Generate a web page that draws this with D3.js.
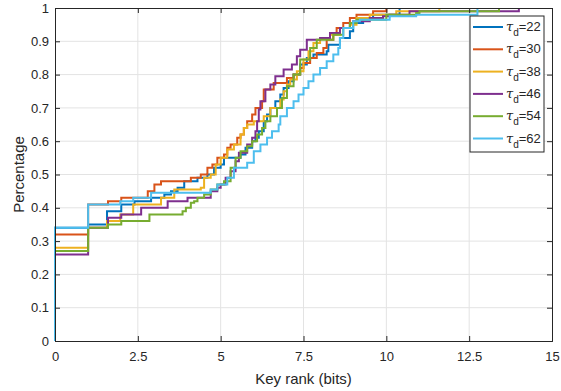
<!DOCTYPE html>
<html>
<head>
<meta charset="utf-8">
<script src="https://cdn.jsdelivr.net/npm/d3@7"></script>
<style>
  body { margin: 0; background: #fff; }
  svg text { font-family: "Liberation Sans", Arial, sans-serif; fill: #262626; }
</style>
</head>
<body>
<div id="chart"></div>
<script>
// tau_d values (legend)
const taus = [22, 30, 38, 46, 54, 62];
const colors = ["#0072BD", "#D95319", "#EDB120", "#7E2F8E", "#77AC30", "#4DBEEE"];

// step CDF breakpoints [key rank, percentage]
const s22 = [[0,0],[0,0.34],[1,0.35],[1.57,0.39],[2.0,0.41],[2.4,0.42],[2.9,0.43],[3.3,0.44],[3.5,0.45],[3.7,0.46],[3.9,0.48],[4.3,0.49],[4.6,0.50],[4.8,0.52],[5.0,0.53],[5.1,0.55],[5.6,0.56],[5.75,0.58],[5.95,0.60],[6.05,0.61],[6.15,0.63],[6.3,0.66],[6.4,0.68],[6.5,0.70],[6.65,0.72],[6.8,0.74],[6.9,0.76],[7.05,0.78],[7.2,0.80],[7.4,0.83],[7.6,0.85],[7.8,0.86],[8.2,0.87],[8.25,0.89],[8.6,0.91],[8.9,0.93],[9.0,0.955],[9.3,0.97],[9.6,0.98],[10.4,1.0]];
const s30 = [[0,0],[0,0.32],[1,0.41],[1.6,0.42],[2.0,0.43],[2.8,0.45],[3.0,0.47],[3.2,0.48],[4.1,0.49],[4.4,0.50],[4.6,0.52],[4.75,0.53],[4.9,0.55],[5.1,0.56],[5.2,0.58],[5.3,0.59],[5.5,0.61],[5.6,0.62],[5.7,0.64],[5.8,0.66],[5.95,0.68],[6.05,0.70],[6.25,0.72],[6.3,0.755],[6.6,0.775],[7.0,0.79],[7.2,0.80],[7.4,0.82],[7.5,0.835],[7.7,0.85],[7.9,0.865],[8.1,0.88],[8.2,0.905],[8.4,0.92],[8.5,0.94],[8.7,0.955],[8.9,0.97],[9.1,0.98],[9.6,0.99],[10.0,1.0]];
const s38 = [[0,0],[0,0.28],[1,0.34],[1.57,0.36],[1.97,0.38],[2.36,0.41],[3.2,0.43],[3.6,0.455],[4.4,0.46],[4.5,0.49],[4.7,0.50],[4.85,0.53],[5.0,0.55],[5.2,0.575],[5.4,0.59],[5.6,0.62],[5.7,0.64],[5.8,0.65],[6.0,0.66],[6.3,0.675],[6.5,0.70],[6.8,0.725],[6.9,0.75],[7.0,0.77],[7.1,0.785],[7.3,0.81],[7.5,0.845],[7.65,0.87],[7.8,0.895],[8.0,0.91],[8.3,0.92],[8.6,0.94],[8.9,0.95],[9.1,0.97],[9.5,0.98],[10.3,0.99],[11.6,1.0]];
const s46 = [[0,0],[0,0.26],[1,0.34],[1.6,0.37],[2.0,0.38],[2.6,0.40],[3.4,0.42],[4.0,0.43],[4.7,0.45],[4.9,0.46],[5.0,0.47],[5.15,0.49],[5.3,0.51],[5.45,0.54],[5.55,0.565],[5.8,0.59],[5.95,0.61],[6.05,0.63],[6.1,0.66],[6.15,0.695],[6.2,0.72],[6.35,0.755],[6.5,0.77],[6.65,0.795],[6.9,0.815],[7.15,0.83],[7.3,0.855],[7.4,0.875],[7.6,0.905],[8.0,0.91],[8.3,0.925],[8.6,0.94],[8.9,0.955],[9.0,0.96],[9.5,0.97],[9.9,0.975],[10.1,0.98],[10.7,0.99],[14.0,1.0]];
const s54 = [[0,0],[0,0.27],[1,0.34],[1.6,0.35],[2.0,0.36],[2.85,0.38],[3.85,0.39],[3.95,0.40],[4.1,0.415],[4.2,0.42],[4.3,0.43],[4.5,0.44],[4.7,0.455],[4.9,0.47],[5.1,0.48],[5.3,0.52],[5.45,0.55],[5.6,0.57],[5.8,0.585],[5.95,0.60],[6.1,0.62],[6.25,0.64],[6.35,0.66],[6.5,0.675],[6.7,0.70],[6.85,0.73],[7.0,0.765],[7.2,0.80],[7.4,0.845],[7.7,0.88],[7.9,0.905],[8.4,0.92],[8.7,0.94],[8.9,0.955],[9.1,0.965],[10.0,0.98],[10.9,0.985],[11.0,0.99],[13.4,1.0]];
const s62 = [[0,0],[0,0.34],[1,0.41],[1.97,0.42],[2.36,0.43],[2.9,0.445],[4.7,0.455],[4.9,0.47],[5.2,0.49],[5.4,0.52],[5.8,0.535],[6.0,0.57],[6.2,0.59],[6.4,0.61],[6.55,0.63],[6.75,0.65],[6.8,0.675],[7.0,0.70],[7.2,0.72],[7.35,0.74],[7.5,0.76],[7.65,0.78],[7.8,0.80],[8.0,0.82],[8.2,0.84],[8.4,0.86],[8.55,0.88],[8.6,0.91],[8.7,0.94],[9.0,0.96],[9.2,0.965],[10.1,0.975],[10.9,0.98],[12.75,1.0]];

const xTicks = [0, 2.5, 5, 7.5, 10, 12.5, 15];
const yTicks = [0, 0.1, 0.2, 0.3, 0.4, 0.5, 0.6, 0.7, 0.8, 0.9, 1];

const series = [s22, s30, s38, s46, s54, s62];

let width = 561, height = 391;
let margin = { top: 8, right: 9, bottom: 50, left: 55 };
let w = width - margin.left - margin.right;
let h = height - margin.top - margin.bottom;

let svg = d3.select('#chart').append('svg')
  .attr('width', width)
  .attr('height', height);

let g = svg.append('g')
  .attr('transform', 'translate(' + margin.left + ',' + margin.top + ')');

let x = d3.scaleLinear().domain([0, 15]).range([0, w]);
let y = d3.scaleLinear().domain([0, 1]).range([h, 0]);

// grid
g.append('g').selectAll('line.gx')
  .data(xTicks.slice(1, -1))
  .enter().append('line')
  .attr('x1', d => x(d)).attr('x2', d => x(d))
  .attr('y1', 0).attr('y2', h)
  .attr('stroke', '#e3e3e3').attr('stroke-width', 1);
g.append('g').selectAll('line.gy')
  .data(yTicks.slice(1, -1))
  .enter().append('line')
  .attr('x1', 0).attr('x2', w)
  .attr('y1', d => y(d)).attr('y2', d => y(d))
  .attr('stroke', '#e3e3e3').attr('stroke-width', 1);

// curves
let line = d3.line()
  .x(d => x(d[0]))
  .y(d => y(d[1]))
  .curve(d3.curveStepAfter);

series.forEach(function(s, i) {
  g.append('path')
    .datum(s)
    .attr('d', line)
    .attr('fill', 'none')
    .attr('stroke', colors[i])
    .attr('stroke-width', 2)
    .attr('stroke-linejoin', 'miter');
});

// axes (MATLAB style: ticks inside, box on)
let axisColor = '#262626';
let xAxis = g.append('g')
  .attr('transform', 'translate(0,' + h + ')')
  .call(d3.axisBottom(x).tickValues(xTicks).tickSize(-5).tickPadding(11).tickFormat(d3.format('')));
let yAxis = g.append('g')
  .call(d3.axisLeft(y).tickValues(yTicks).tickSize(-5).tickPadding(6).tickFormat(d3.format('')));
let xTop = g.append('g')
  .call(d3.axisTop(x).tickValues(xTicks).tickSize(-5).tickFormat(''));
let yRight = g.append('g')
  .attr('transform', 'translate(' + w + ',0)')
  .call(d3.axisRight(y).tickValues(yTicks).tickSize(-5).tickFormat(''));

[xAxis, yAxis, xTop, yRight].forEach(function(a) {
  a.select('.domain').attr('stroke', axisColor).attr('stroke-width', 1);
  a.selectAll('.tick line').attr('stroke', axisColor);
  a.selectAll('.tick text')
    .attr('fill', axisColor)
    .style('font-size', '13px')
    .style('font-family', '"Liberation Sans", Arial, sans-serif');
});

// axis labels
g.append('text')
  .attr('x', w / 2)
  .attr('y', h + 43)
  .attr('text-anchor', 'middle')
  .style('font-size', '15px')
  .text('Key rank (bits)');

g.append('text')
  .attr('transform', 'translate(' + (-31) + ',' + (h / 2) + ') rotate(-90)')
  .attr('text-anchor', 'middle')
  .style('font-size', '15px')
  .text('Percentage');

// legend
let lg = svg.append('g')
  .attr('transform', 'translate(470,16)');
lg.append('rect')
  .attr('width', 74).attr('height', 136)
  .attr('fill', '#fff')
  .attr('stroke', axisColor).attr('stroke-width', 1);

taus.forEach(function(t, i) {
  let yy = 11 + i * 22.3;
  lg.append('line')
    .attr('x1', 3).attr('x2', 33)
    .attr('y1', yy).attr('y2', yy)
    .attr('stroke', colors[i]).attr('stroke-width', 2);
  let txt = lg.append('text')
    .attr('x', 36)
    .attr('y', yy + 4)
    .style('font-size', '13px');
  txt.append('tspan')
    .style('font-family', '"DejaVu Serif", serif')
    .style('font-style', 'italic')
    .text('τ');
  txt.append('tspan')
    .attr('dy', 5)
    .style('font-size', '10px')
    .text('d');
  txt.append('tspan')
    .attr('dy', -5)
    .text('=' + t);
});
</script>
</body>
</html>
